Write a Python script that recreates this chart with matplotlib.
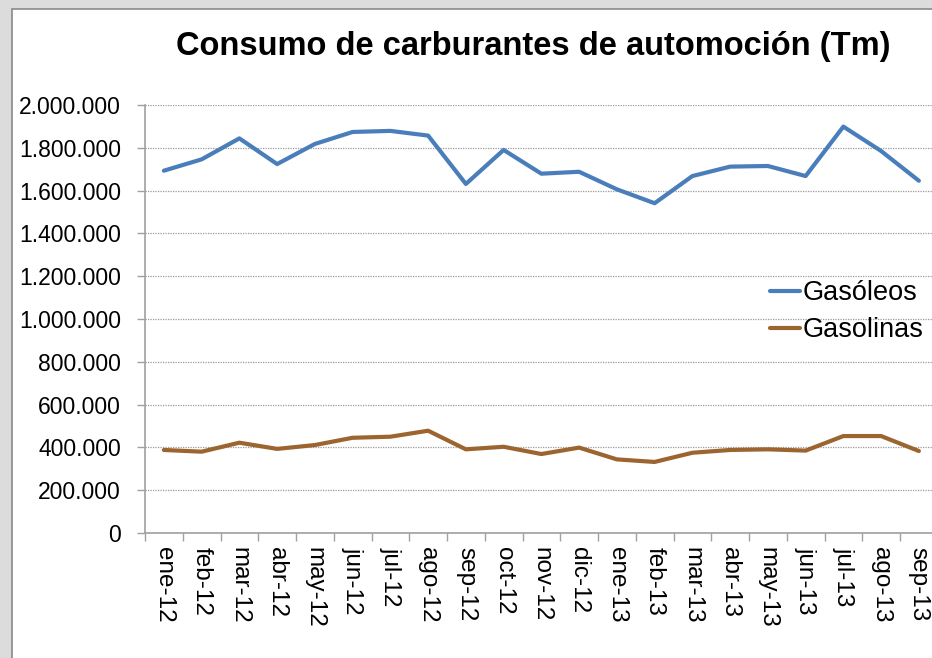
import matplotlib.pyplot as plt
from matplotlib.patches import Rectangle
from matplotlib.ticker import FuncFormatter

# ===================== DATA =====================
MONTHS = ["ene-12", "feb-12", "mar-12", "abr-12", "may-12", "jun-12", "jul-12",
          "ago-12", "sep-12", "oct-12", "nov-12", "dic-12", "ene-13", "feb-13",
          "mar-13", "abr-13", "may-13", "jun-13", "jul-13", "ago-13", "sep-13"]

GASOLEOS = [1693000, 1746000, 1844000, 1724000, 1818000, 1874000, 1879000,
            1857000, 1631000, 1790000, 1679000, 1688000, 1606000, 1541000,
            1668000, 1712000, 1715000, 1668000, 1899000, 1785000, 1646000]

GASOLINAS = [388000, 380000, 422000, 393000, 411000, 445000, 450000,
             478000, 391000, 403000, 369000, 399000, 344000, 332000,
             375000, 388000, 391000, 385000, 453000, 453000, 383000]

TITLE = "Consumo de carburantes de automoción (Tm)"
# ================================================

W, H = 932, 658
plt.rcParams["font.family"] = ["Liberation Sans", "DejaVu Sans"]

fig = plt.figure(figsize=(W / 100, H / 100), dpi=100)
fig.patch.set_facecolor("#dcdcdc")

# white chart area with grey frame, in a background axes
bg = fig.add_axes([0, 0, 1, 1], zorder=-1)
bg.set_xlim(0, W)
bg.set_ylim(H, 0)
bg.axis("off")
bg.add_patch(Rectangle((12, 9), W + 20, H + 20, facecolor="white",
                       edgecolor="#8a8a8a", linewidth=1.2))

ax = fig.add_axes([145 / W, 1 - 533 / H, 792.75 / W, 428 / H])
ax.set_facecolor("none")

x = list(range(len(MONTHS)))
ax.plot(x, GASOLEOS, color="#4a7ebb", linewidth=3, label="Gasóleos",
        solid_joinstyle="round", solid_capstyle="round")
ax.plot(x, GASOLINAS, color="#9c6530", linewidth=3, label="Gasolinas",
        solid_joinstyle="round", solid_capstyle="round")

ax.set_xlim(-0.5, len(MONTHS) - 0.5)
ax.set_ylim(0, 2000000)
ax.set_yticks(range(0, 2000001, 200000))
ax.yaxis.set_major_formatter(FuncFormatter(lambda v, p: f"{int(v):,}".replace(",", ".")))

ax.set_xticks([i - 0.5 for i in range(len(MONTHS) + 1)], minor=False)
ax.set_xticklabels([])
ax.set_xticks(x, minor=True)
ax.set_xticklabels(MONTHS, minor=True, rotation=-90, fontsize=17.5)
ax.tick_params(axis="x", which="major", length=5.8, color="#a0a0a0", width=1)
ax.tick_params(axis="x", which="minor", length=0, pad=10)
ax.tick_params(axis="y", length=5.8, color="#a0a0a0", width=1, labelsize=16.5, pad=11.5)

ax.grid(axis="y", linestyle=(0, (1, 1)), color="#9a9a9a", linewidth=0.9)
ax.set_axisbelow(True)
for s in ["top", "right"]:
    ax.spines[s].set_visible(False)
for s in ["left", "bottom"]:
    ax.spines[s].set_color("#a0a0a0")
    ax.spines[s].set_linewidth(1.2)

ax.legend(loc="upper left", bbox_to_anchor=(746 / W, 1 - 256 / H),
          bbox_transform=fig.transFigure, frameon=False, fontsize=19.5,
          handlelength=1.1, handletextpad=0.1, labelspacing=0.4)

fig.text(533 / W, 1 - 47 / H, TITLE, ha="center", va="center",
         fontsize=23.5, fontweight="bold")

fig.savefig("out.png", dpi=100, facecolor=fig.get_facecolor())
